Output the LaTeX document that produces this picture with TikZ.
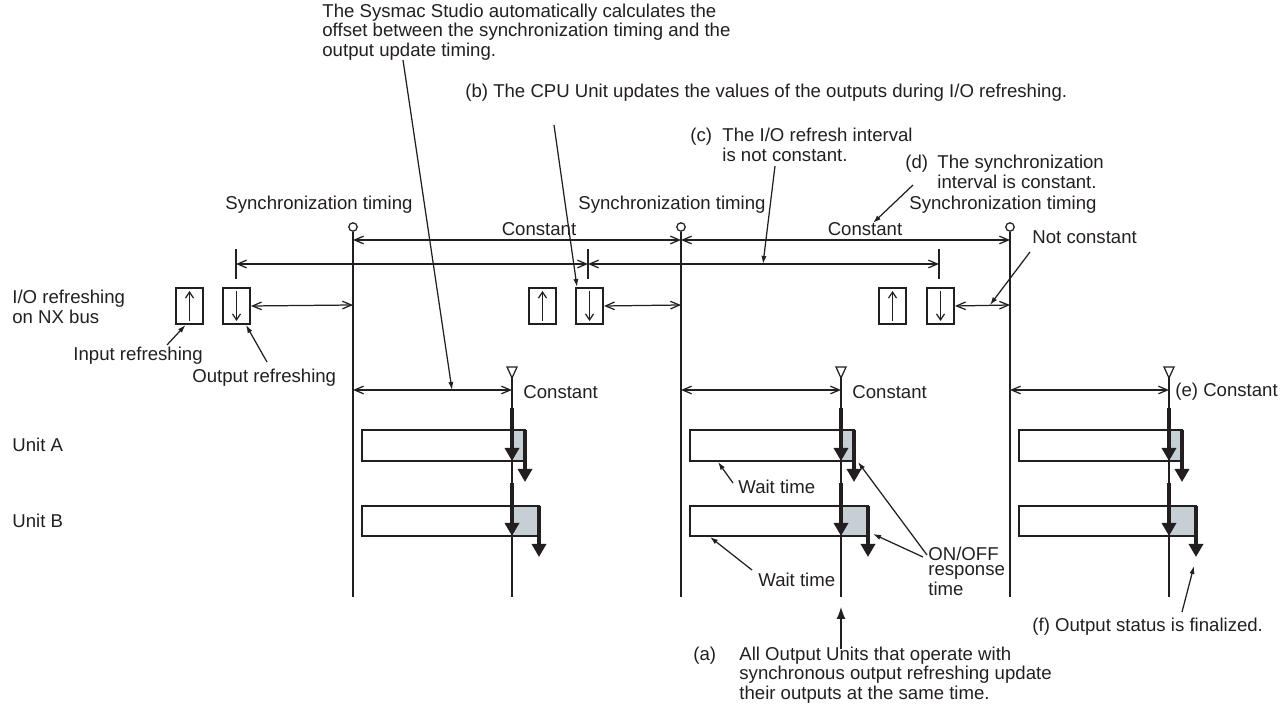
\documentclass[tikz,border=0pt]{standalone}
\usepackage{fontspec}
\setmainfont{Liberation Sans}
\usepackage{xcolor}
\usepackage{tikz}
\usetikzlibrary{arrows.meta,positioning}
\definecolor{holdgray}{RGB}{198,208,212}
\definecolor{inkblack}{RGB}{35,31,32}
\newcommand{\lblfont}{\fontsize{9.3pt}{7.75pt}\selectfont}

\begin{document}
\begin{tikzpicture}[x=0.5pt,y=-0.5pt,
  lbl/.style={font=\lblfont,text=inkblack,inner sep=0pt,align=left,anchor=west},
  thinline/.style={line width=0.62pt,draw=inkblack},
  dim/.style={thinline,{Straight Barb[length=4.5pt,width=3.8pt]}-{Straight Barb[length=4.5pt,width=3.8pt]}},
  leader/.style={thinline,-{Latex[length=4pt,width=2.6pt]}},
  refbox/.style={draw=inkblack,line width=1pt,minimum width=13.5pt,minimum height=18pt,
                 inner sep=0pt,anchor=north west},
  syncmark/.style={circle,draw=inkblack,line width=0.62pt,minimum size=4.2pt,inner sep=0pt},
  outbar/.style={draw=inkblack,line width=0.9pt},
  hold/.style={line width=1.8pt,draw=inkblack,-{Triangle[length=6.5pt,width=7pt]}}
]
\useasboundingbox (0,0) rectangle (1281,704);

% One synchronization period per pass.
\foreach \s/\t/\i/\o/\k/\n in {353/512/175/222/236/1,681/841/528/575/588/2,1010/1169/878/926/939/3}{
  \node[syncmark] (sync\n) at (\s,227) {};
  \draw[thinline] (sync\n.south) -- (\s,597);
  % I/O refreshing on the NX bus
  \node[refbox] (in\n) at (\i,287) {};
  \node[refbox] (out\n) at (\o,287) {};
  \draw[thinline,-{Straight Barb[length=3pt,width=4pt]}] ([yshift=2pt]in\n.south) -- ([yshift=-2pt]in\n.north);
  \draw[thinline,-{Straight Barb[length=3pt,width=4pt]}] ([yshift=-2pt]out\n.north) -- ([yshift=2pt]out\n.south);
  \draw[dim] (out\n.east) -- (\s,305);
  \draw[thinline] (\k,249) -- (\k,279);
  % Unit A and Unit B output bars
  \fill[white] ({\s+9},430) rectangle ({\t+13},461);
  \fill[holdgray] (\t,430) rectangle ({\t+13},461);
  \draw[outbar] ({\s+9},430) rectangle ({\t+13},461);
  \fill[white] ({\s+9},506) rectangle ({\t+27},536);
  \fill[holdgray] (\t,506) rectangle ({\t+27},536);
  \draw[outbar] ({\s+9},506) rectangle ({\t+27},536);
  % output update timing
  \draw[thinline,fill=white] ({\t-5},367) -- ({\t+5},367) -- (\t,378) -- cycle;
  \draw[thinline] (\t,378) -- (\t,597);
  \draw[dim] (\s,390) -- (\t,390);
  \draw[hold] (\t,408) -- (\t,461);
  \draw[hold] ({\t+13},430) -- ({\t+13},482);
  \draw[hold] (\t,483) -- (\t,536);
  \draw[hold] ({\t+27},506) -- ({\t+27},557);
}

% Intervals between synchronization and refresh points.
\draw[dim] (353,240) -- (681,240);
\draw[dim] (681,240) -- (1010,240);
\draw[dim] (236,264) -- (588,264);
\draw[dim] (588,264) -- (939,264);

% Row titles and timing labels.
\node[lbl] (iorow) at (12,307) {I/O refreshing\\on NX bus};
\node[lbl] (unita) at (12,445) {Unit A};
\node[lbl] (unitb) at (12,521) {Unit B};
\node[lbl,anchor=center] (synclbl1) at (319,205) {Synchronization timing};
\node[lbl,anchor=center] (synclbl2) at (672,205) {Synchronization timing};
\node[lbl,anchor=center] (synclbl3) at (1003,205) {Synchronization timing};
\node[lbl,anchor=center] (const1) at (539,229) {Constant};
\node[lbl,anchor=center] (const2) at (865,229) {Constant};
\node[lbl] (offconst1) at (523,392) {Constant};
\node[lbl] (offconst2) at (852,392) {Constant};
\node[lbl] (offconst3) at (1175,392) {(e) Constant};

% Annotations with their leaders.
\node[lbl] (offset) at (322,32)
  {The Sysmac Studio automatically calculates the\\
   offset between the synchronization timing and the\\
   output update timing.};
\node[lbl] (cpunote) at (465,93)
  {(b) The CPU Unit updates the values of the outputs during I/O refreshing.};
\node[lbl] (ionote) at (690,145)
  {\makebox[16pt][l]{(c)}The I/O refresh interval\\\hspace*{16pt}is not constant.};
\node[lbl] (syncnote) at (905,172)
  {\makebox[16pt][l]{(d)}The synchronization\\\hspace*{16pt}interval is constant.};
\node[lbl] (notconst) at (1032,237) {Not constant};
\node[lbl] (inref) at (73,356) {Input refreshing};
\node[lbl] (outref) at (192,378) {Output refreshing};
\node[lbl] (wait1) at (738,487) {Wait time};
\node[lbl] (wait2) at (758,580) {Wait time};
\node[lbl] (onoff) at (928,571) {ON/OFF\\response\\time};
\node[lbl] (samenote) at (693,675)
  {\makebox[23pt][l]{(a)}All Output Units that operate with\\
   \hspace*{23pt}synchronous output refreshing update\\
   \hspace*{23pt}their outputs at the same time.};
\node[lbl] (finalnote) at (1032,627) {(f) Output status is finalized.};

\coordinate (offsetfoot) at (403,60);
\coordinate (offsettip) at (452,390);
\coordinate (cpufoot) at (554,125);
\coordinate (iofoot) at (775,166);
\coordinate (iotip) at (763,264);
\coordinate (syncfoot) at (913,185);
\coordinate (synctip) at (873,223);
\coordinate (notfoot) at (1030,252);
\coordinate (nottip) at (990,305);
\coordinate (wait1tip) at (718,462);
\coordinate (wait2tip) at (710,537);
\coordinate (onofftipa) at (858,462);
\coordinate (onofftipb) at (873,534);
\coordinate (samefoot) at (841,649);
\coordinate (sametip) at (841,607);
\coordinate (finalfoot) at (1182,612);
\coordinate (finaltip) at (1194,566);

\draw[leader] (offsetfoot) -- (offsettip);
\draw[leader] (cpufoot) -- ([xshift=1pt]out2.north west);
\draw[leader] (iofoot) -- (iotip);
\draw[leader] (syncfoot) -- (synctip);
\draw[leader] (notfoot) -- (nottip);
\draw[leader] ([shift={(94,-11)}]inref.west) -- ([xshift=-2pt]in1.south);
\draw[leader] ([shift={(75,-16)}]outref.west) -- ([xshift=-2.5pt]out1.south east);
\draw[leader] ([shift={(-5,-4)}]wait1.west) -- (wait1tip);
\draw[leader] ([shift={(-6,-10)}]wait2.west) -- (wait2tip);
\draw[leader] ([shift={(-1,-16)}]onoff.west) -- (onofftipa);
\draw[leader] ([shift={(-5,-14)}]onoff.west) -- (onofftipb);
\draw[thinline,-{Latex[length=6pt,width=4.5pt]}] (samefoot) -- (sametip);
\draw[leader] (finalfoot) -- (finaltip);
\end{tikzpicture}
\end{document}
